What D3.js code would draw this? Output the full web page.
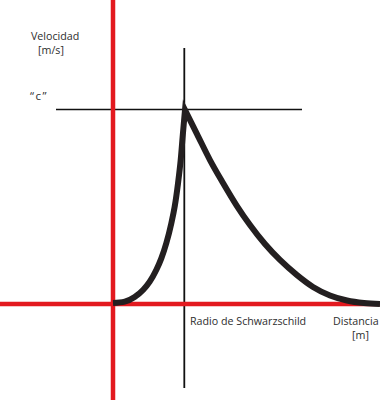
<!DOCTYPE html>
<html>
<head>
<meta charset="utf-8">
<script src="https://cdn.jsdelivr.net/npm/d3@7"></script>
<style>
  html, body { margin: 0; padding: 0; background: #fff; }
  svg { display: block; }
  text { font-family: "Open Sans", sans-serif; fill: #2e2e2e; }
</style>
</head>
<body>
<svg id="chart" width="380" height="400"></svg>
<script>
// Distance in units of the Schwarzschild radius, velocity in units of c
const risingDistance = [0, 0.163, 0.301, 0.417, 0.510, 0.601, 0.671, 0.740, 0.810, 0.857, 0.903, 0.940, 0.972, 1.0];
const risingVelocity = [0.005, 0.012, 0.036, 0.072, 0.115, 0.175, 0.235, 0.313, 0.416, 0.502, 0.622, 0.742, 0.883, 1.0];
const fallingDistance = [1.0, 1.167, 1.347, 1.528, 1.722, 1.903, 2.111, 2.319, 2.556, 2.778, 3.014, 3.250, 3.486, 3.708];
const fallingVelocity = [1.0, 0.876, 0.742, 0.624, 0.505, 0.407, 0.309, 0.227, 0.149, 0.088, 0.044, 0.018, 0.005, 0.0];
const yAxisLabel = ["Velocidad", "[m/s]"];
const xAxisLabel = ["Distancia", "[m]"];
const markerLabels = { speedOfLight: "“c”", radius: "Radio de Schwarzschild" };

const W = 380, H = 400;
const svg = d3.select("#chart");

const x = d3.scaleLinear().domain([0, 1]).range([113, 185]);
const y = d3.scaleLinear().domain([0, 1]).range([304, 110]);

const RED = "#e3191f";
const INK = "#231f20";

// guide lines (Schwarzschild radius and c)
svg.append("line")
  .attr("x1", x(1) - 0.7).attr("x2", x(1) - 0.7)
  .attr("y1", 48).attr("y2", 388)
  .attr("stroke", "#111").attr("stroke-width", 1.8);
svg.append("line")
  .attr("x1", 56).attr("x2", 302)
  .attr("y1", y(1) - 0.5).attr("y2", y(1) - 0.5)
  .attr("stroke", "#111").attr("stroke-width", 1.5);

// red axes
svg.append("line")
  .attr("x1", x(0)).attr("x2", x(0))
  .attr("y1", 0).attr("y2", H)
  .attr("stroke", RED).attr("stroke-width", 4.5);
svg.append("line")
  .attr("x1", 0).attr("x2", W)
  .attr("y1", y(0)).attr("y2", y(0))
  .attr("stroke", RED).attr("stroke-width", 4.5);

// curve
const rising = risingDistance.map((d, i) => [d, risingVelocity[i]]);
const falling = fallingDistance.map((d, i) => [d, fallingVelocity[i]]);
const line = d3.line().x(d => x(d[0])).y(d => y(d[1])).curve(d3.curveMonotoneX);
const pathD = line(rising) + line(falling).replace(/^M/, "L");
svg.append("path")
  .attr("d", pathD)
  .attr("fill", "none")
  .attr("stroke", INK)
  .attr("stroke-width", 6)
  .attr("stroke-linejoin", "miter")
  .attr("stroke-miterlimit", 12);

// labels
const fs = 10.7;
svg.append("text").attr("x", 31).attr("y", 40).attr("font-size", fs).text(yAxisLabel[0]);
svg.append("text").attr("x", 38).attr("y", 54).attr("font-size", fs).text(yAxisLabel[1]);
svg.append("text").attr("x", 30).attr("y", 100).attr("font-size", 11.5).attr("letter-spacing", 1.5).text(markerLabels.speedOfLight);
svg.append("text").attr("x", 190).attr("y", 325).attr("font-size", fs).text(markerLabels.radius);
svg.append("text").attr("x", 333).attr("y", 325).attr("font-size", fs).text(xAxisLabel[0]);
svg.append("text").attr("x", 352).attr("y", 339).attr("font-size", fs).text(xAxisLabel[1]);
</script>
</body>
</html>
